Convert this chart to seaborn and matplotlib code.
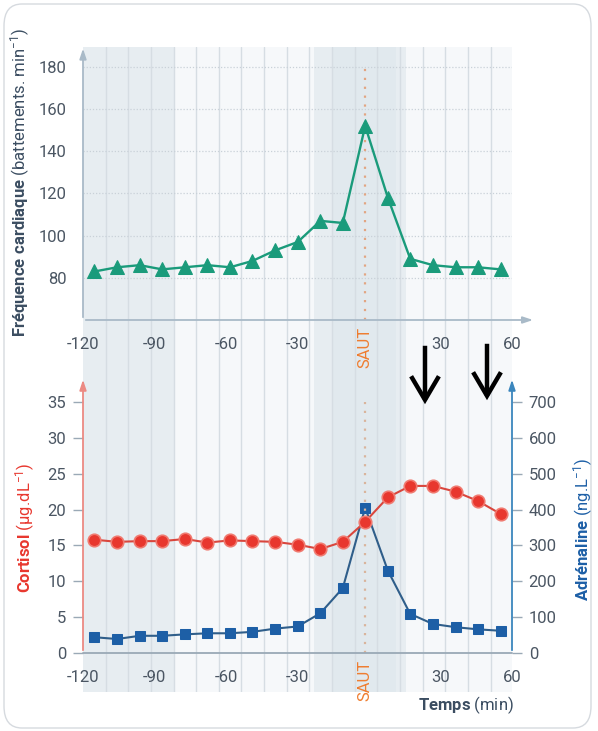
import numpy as np
import pandas as pd
import matplotlib
matplotlib.use("Agg")
import matplotlib.pyplot as plt
import matplotlib.transforms as mtransforms
from matplotlib import font_manager
from matplotlib.patches import FancyBboxPatch, FancyArrowPatch
import seaborn as sns

# ---------------- data ----------------
times = [-115.2, -105.7, -96.2, -86.8, -77.2, -67.8, -58.3, -48.9, -39.4, -29.9,
         -20.4, -11.0, -1.6, 7.9, 17.3, 26.8, 36.3, 45.7, 55.2]
heart_rate = [83, 85, 86, 84, 85, 86, 85, 88, 93, 97, 107, 106, 152, 118, 89, 86, 85, 85, 84]
cortisol = [15.8, 15.5, 15.6, 15.6, 15.9, 15.4, 15.7, 15.6, 15.5, 15.1,
            14.5, 15.5, 18.3, 21.7, 23.3, 23.3, 22.5, 21.2, 19.4]
adrenaline = [44, 39, 48, 48, 52, 55, 55, 59, 68, 74, 111, 181, 405, 230, 109, 81, 72, 66, 62]
tick_edges = [-120, -110.5, -101, -91.5, -82, -72.5, -63, -53.5, -44, -34.5,
              -25, -15.5, -6, 3.5, 13, 22.5, 32, 41.5, 51, 60]
x_tick_values = [-120, -90, -60, -30, 30, 60]
x_tick_labels = ["-120", "-90", "-60", "-30", "30", "60"]
hr_ticks = [80, 100, 120, 140, 160, 180]
cort_ticks = [0, 5, 10, 15, 20, 25, 30, 35]
adr_ticks = [0, 100, 200, 300, 400, 500, 600, 700]
jump_label = "SAUT"

df = pd.DataFrame({"t": times, "hr": heart_rate, "cort": cortisol, "adr": adrenaline})

# ---------------- style ----------------
sns.set_style("white")
names = {f.name for f in font_manager.fontManager.ttflist}
base = "Liberation Sans Narrow" if "Liberation Sans Narrow" in names else "Roboto"
plt.rcParams["font.family"] = [base, "DejaVu Sans"]
plt.rcParams["mathtext.fontset"] = "custom"
plt.rcParams["mathtext.rm"] = base
plt.rcParams["mathtext.bf"] = base + ":bold"
plt.rcParams["mathtext.it"] = base + ":italic"

GREEN = "#1a9b7b"
RED = "#e8372e"
RED_LINE = "#d9463d"
BLUE = "#1d5fa6"
BLUE_LINE = "#2f5e8a"
ORANGE = "#ef7d30"
AXC = "#a9bac8"
TXT = "#4b5663"
DARK = "#3b4d61"
BG = "#f6f8fa"
BAND = "#e7edf1"
BAND2 = "#e1e9ee"
GRID = "#d6dde3"
FS = 12

W, H = 598, 731
fig = plt.figure(figsize=(W / 100, H / 100), dpi=100)


def rect(x0, y0, x1, y1):
    """pixel box (top-left origin) -> figure fraction [l, b, w, h]"""
    return [x0 / W, 1 - y1 / H, (x1 - x0) / W, (y1 - y0) / H]

# card border
fig.add_artist(FancyBboxPatch((4 / W, 3 / H), 587 / W, 724 / H,
                              boxstyle="round,pad=0,rounding_size=0.03",
                              transform=fig.transFigure, facecolor="none",
                              edgecolor="#d6dadf", lw=1.0))

# background axes with shaded bands and vertical grid
axbg = fig.add_axes(rect(83, 47, 512, 692))
axbg.set_xlim(-120, 60)
axbg.set_ylim(0, 1)
axbg.axis("off")
axbg.axvspan(-120, 60, color=BG, lw=0)
axbg.axvspan(-120, -82, color=BAND, lw=0)
axbg.axvspan(-23, 15.5, color=BAND, lw=0)
axbg.axvspan(-15.5, 11.5, color=BAND2, lw=0)
for e in tick_edges[1:-1]:
    axbg.axvline(e, color=GRID, lw=1.0, zorder=1)

# ---------------- top panel: heart rate ----------------
ax1 = fig.add_axes(rect(83, 50, 512, 320))
ax1.patch.set_alpha(0)
ax1.set_xlim(-120, 60)
ax1.set_ylim(60, 188)
for h in hr_ticks:
    ax1.axhline(h, color="#c9d1d8", lw=0.9, ls=(0, (1, 1.5)), zorder=1)
ax1.vlines(times[12], 60, 180, colors="#e2a582", lw=1.6, ls=(0, (1, 3)), zorder=2)
sns.lineplot(data=df, x="t", y="hr", ax=ax1, color=GREEN, lw=1.7, marker="^",
             markersize=10, markeredgecolor=GREEN, zorder=4, sort=True)

# ---------------- bottom panel: cortisol + adrenaline ----------------
ax2 = fig.add_axes(rect(83, 380, 512, 653))
ax2.patch.set_alpha(0)
ax2.set_xlim(-120, 60)
ax2.set_ylim(0, 38.07)
ax3 = ax2.twinx()
ax3.patch.set_alpha(0)
ax3.set_ylim(0, 761.4)
ax2.vlines(times[12], 0, 35, colors="#d9b49c", lw=1.6, ls=(0, (1, 3)), zorder=2)
sns.lineplot(data=df, x="t", y="adr", ax=ax3, color=BLUE_LINE, lw=1.5, marker="s",
             markersize=7.5, markerfacecolor=BLUE, markeredgecolor=BLUE, zorder=4)
sns.lineplot(data=df, x="t", y="cort", ax=ax2, color=RED_LINE, lw=1.5, marker="o",
             markersize=9, markerfacecolor=RED, markeredgecolor="#f07a70",
             markeredgewidth=1.2, zorder=5)
ax2.set_zorder(ax3.get_zorder() + 1)

# ---------------- axes cosmetics ----------------
for ax in (ax1, ax2, ax3):
    ax.set_xlabel("")
    ax.set_ylabel("")
    for s in ax.spines.values():
        s.set_visible(False)

# x axes
for ax in (ax1, ax2):
    ax.set_xticks(x_tick_values)
    ax.set_xticklabels(x_tick_labels)
    ax.set_xticks(tick_edges, minor=True)
    ax.tick_params(axis="x", which="major", length=0, pad=12, labelsize=FS, labelcolor=TXT)
    ax.tick_params(axis="x", which="minor", length=6, direction="inout", color="#9aa9b6", width=1)
    ax.text(times[12], -0.025, jump_label,
            transform=mtransforms.blended_transform_factory(ax.transData, ax.transAxes),
            rotation=90, ha="center", va="top", color=ORANGE, fontsize=FS)

# top axis lines with arrows
ax1.annotate("", xy=(70, 60), xytext=(-120, 60), xycoords="data",
             arrowprops=dict(arrowstyle="-|>,head_length=0.6,head_width=0.2", color=AXC, lw=1.3),
             annotation_clip=False)
ax1.annotate("", xy=(-120, 190), xytext=(-120, 60),
             arrowprops=dict(arrowstyle="-|>,head_length=0.6,head_width=0.2", color=AXC, lw=1.3),
             annotation_clip=False)
ax1.set_yticks(hr_ticks)
ax1.tick_params(axis="y", length=7, width=1, color="#9aa9b6", pad=5, labelsize=FS, labelcolor=TXT)

# bottom axis lines
ax2.plot([-120, 60], [0, 0], color="#9aa9b6", lw=1.3, clip_on=False, zorder=3)
ax2.annotate("", xy=(-120, 38.5), xytext=(-120, 0),
             arrowprops=dict(arrowstyle="-|>,head_length=0.6,head_width=0.2", color="#ec8a83", lw=1.3),
             annotation_clip=False)
ax3.annotate("", xy=(60, 770), xytext=(60, 0),
             arrowprops=dict(arrowstyle="-|>,head_length=0.6,head_width=0.2", color="#3b86bd", lw=1.3),
             annotation_clip=False)
ax2.set_yticks(cort_ticks)
ax2.tick_params(axis="y", length=7, width=1, color="#9aa9b6", pad=5, labelsize=FS, labelcolor=TXT)
ax3.set_yticks(adr_ticks)
ax3.tick_params(axis="y", length=7, width=1, color="#9aa9b6", pad=5, labelsize=FS, labelcolor=TXT)
ax3.tick_params(axis="x", length=0, labelbottom=False)

# axis titles
fig.text(20 / W, 1 - 183 / H, r"$\mathbf{Fréquence\ cardiaque}$ (battements. min$^{-1}$)",
         rotation=90, ha="center", va="center", color=DARK, fontsize=12)
fig.text(25 / W, 1 - 528 / H, r"$\mathbf{Cortisol}$ (µg.dL$^{-1}$)",
         rotation=90, ha="center", va="center", color=RED, fontsize=12)
fig.text(583 / W, 1 - 529 / H, r"$\mathbf{Adrénaline}$ (ng.L$^{-1}$)",
         rotation=90, ha="center", va="center", color=BLUE, fontsize=12)
fig.text(466 / W, 1 - 705 / H, r"$\mathbf{Temps}$ (min)", ha="center", va="center",
         color=DARK, fontsize=12)

# black annotation arrows
for xp, y0, y1 in ((425, 343, 407), (487, 341, 403)):
    fig.add_artist(FancyArrowPatch((xp / W, 1 - y0 / H), (xp / W, 1 - y1 / H),
                                   transform=fig.transFigure,
                                   arrowstyle="->,head_length=0.85,head_width=0.5",
                                   mutation_scale=20, lw=3.2, color="black",
                                   joinstyle="miter", capstyle="butt"))

fig.savefig("out.png", dpi=100, facecolor="white")
